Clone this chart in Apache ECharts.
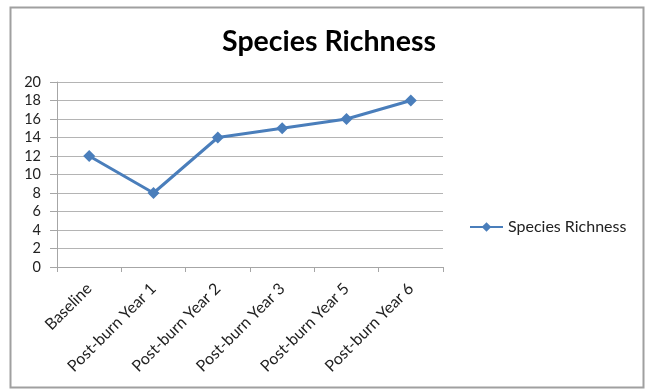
<!DOCTYPE html>
<html><head><meta charset="utf-8">
<script src="https://cdn.jsdelivr.net/npm/echarts@6/dist/echarts.min.js"></script>
<style>html,body{margin:0;padding:0;background:#fff}#c{width:645px;height:389px}</style>
</head><body><div id="c"></div>
<script>
var categories = ["Baseline","Post-burn Year 1","Post-burn Year 2","Post-burn Year 3","Post-burn Year 5","Post-burn Year 6"];
var seriesName = "Species Richness";
var values = [12, 8, 14, 15, 16, 18];
var titleText = "Species Richness";

var chart = echarts.init(document.getElementById('c'), null, {renderer:'canvas'});
var font = "Lato, 'Open Sans', sans-serif";
chart.setOption({
  animation:false,
  backgroundColor:'#fff',
  graphic:[{type:'rect', shape:{x:10.5,y:7.5,width:633,height:380}, style:{fill:'none',stroke:'#a0a0a0',lineWidth:2}}],
  title:{text:titleText, left:324, top:22, textAlign:'center',
    textStyle:{fontFamily:font, fontWeight:'bold', fontSize:28.5, color:'#000'}},
  legend:{data:[seriesName], left:464, top:214, itemWidth:33, itemHeight:12, itemGap:5,
    textStyle:{fontFamily:font, fontSize:16, color:'#222'}},
  grid:{left:57, right:202, top:82, bottom:122, containLabel:false},
  xAxis:{type:'category', data:categories, boundaryGap:true,
    axisLine:{lineStyle:{color:'#a6a6a6', width:1}},
    axisTick:{show:true, length:5, lineStyle:{color:'#a6a6a6'}, alignWithLabel:false},
    axisLabel:{rotate:45, interval:0, fontFamily:font, fontSize:16, color:'#222', margin:19}},
  yAxis:{type:'value', min:0, max:20, interval:2,
    axisLine:{show:true, lineStyle:{color:'#a6a6a6'}},
    axisTick:{show:true, length:7, lineStyle:{color:'#a6a6a6'}},
    axisLabel:{fontFamily:font, fontSize:14.5, color:'#222', margin:16},
    splitLine:{lineStyle:{color:'#b4b4b4', width:1}}},
  series:[{name:seriesName, type:'line', data:values,
    symbol:'diamond', symbolSize:12,
    lineStyle:{color:'#4a7ebb', width:3},
    itemStyle:{color:'#4a7ebb'}}]
});
</script></body></html>
